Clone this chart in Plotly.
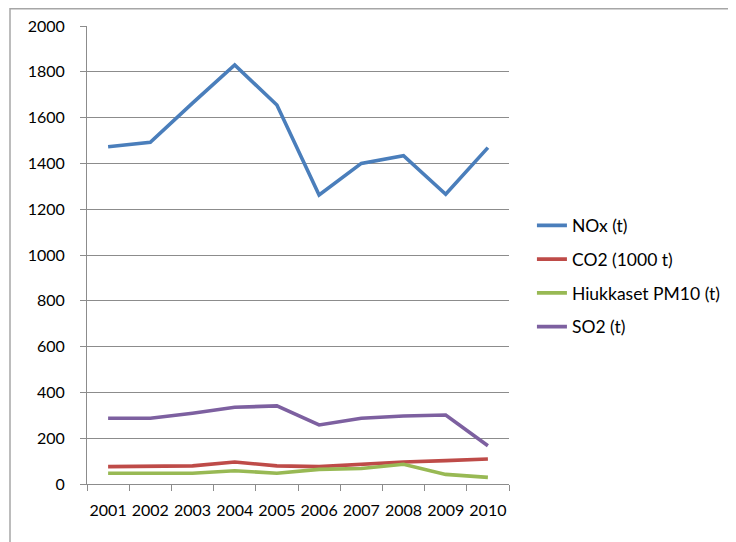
import plotly.graph_objects as go

# ── Data ─────────────────────────────────────────────────────────────────────
YEARS = ["2001", "2002", "2003", "2004", "2005", "2006", "2007", "2008", "2009", "2010"]
NOX   = [1473, 1492, 1663, 1830, 1655, 1262, 1400, 1434, 1265, 1469]
CO2   = [76, 76, 79, 96, 79, 76, 87, 96, 102, 109]
PM10  = [47, 47, 47, 58, 47, 64, 68, 86, 42, 29]
SO2   = [287, 287, 309, 335, 341, 258, 287, 297, 301, 167]

SERIES = [
    ("NOx (t)", NOX, "#4A7EBB"),
    ("CO2 (1000 t)", CO2, "#BE4B48"),
    ("Hiukkaset PM10 (t)", PM10, "#98B954"),
    ("SO2 (t)", SO2, "#7D60A0"),
]

FONT = "Lato, 'Open Sans', sans-serif"
GRID = "#8C8C8C"

fig = go.Figure()
for i, (name, vals, color) in enumerate(SERIES):
    fig.add_trace(go.Scatter(
        x=YEARS, y=vals, name=name, mode="lines",
        legendgroup=f"g{i}",
        line=dict(color=color, width=3.6),
    ))

# page body has an 8px margin, so the figure itself is 728x534
# plot area in figure pixels: x 79..501, y 18..476
L, R, T, B = 79, 227, 18, 58
W, H = 728, 534
pw, ph = W - L - R, H - T - B

fig.update_layout(
    width=W, height=H,
    margin=dict(l=L, r=R, t=T, b=B, autoexpand=False),
    paper_bgcolor="white", plot_bgcolor="white",
    font=dict(family=FONT, size=15, color="#000000"),
    showlegend=True,
    legend=dict(
        x=(529 - L) / pw - 0.012, xanchor="left",
        y=(476 - 268) / ph, yanchor="middle",
        tracegroupgap=8,
        font=dict(size=17.5),
        bgcolor="rgba(0,0,0,0)",
    ),
    shapes=[dict(
        type="rect", xref="paper", yref="paper",
        x0=(2 - L) / pw, x1=(745 - L) / pw,
        y0=-(560 - 476) / ph, y1=1 + (T - 0.75) / ph,
        line=dict(color="#A6A6A6", width=1.5),
        fillcolor="rgba(0,0,0,0)", layer="below",
    )],
)

fig.update_xaxes(
    type="category", range=[-0.5, 9.5],
    showline=True, linecolor=GRID, linewidth=1,
    ticks="outside", tickson="boundaries", ticklen=6, tickcolor=GRID,
    showgrid=False, zeroline=False,
    tickangle=0, automargin=False,
    tickfont=dict(size=16),
    ticklabelstandoff=12,
)
fig.update_yaxes(
    range=[0, 2000], dtick=200,
    showline=True, linecolor=GRID, linewidth=1,
    ticks="outside", ticklen=6, tickcolor=GRID,
    showgrid=True, gridcolor=GRID, gridwidth=1,
    zeroline=False, automargin=False,
    tickfont=dict(size=16),
    ticklabelstandoff=12,
)

fig.write_html("out.html")
